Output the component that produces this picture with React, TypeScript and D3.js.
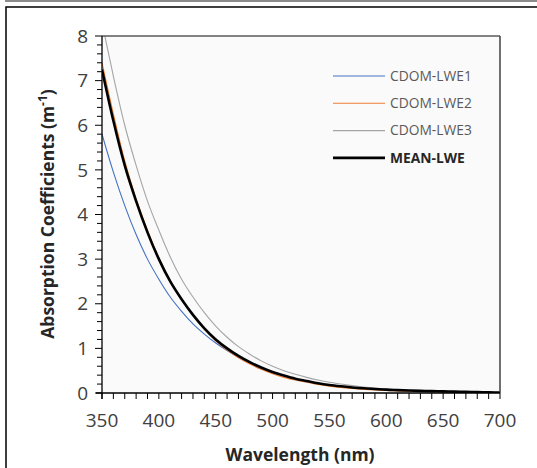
import React from "react";
import * as d3 from "d3";

const wavelengths = [350,360,370,380,390,400,410,420,430,440,450,460,470,480,490,500,510,520,530,540,550,560,570,580,590,600,610,620,630,640,650,660,670,680,690,700];

const lwe1 = [5.8,4.95,4.2,3.55,3.0,2.55,2.15,1.83,1.55,1.32,1.12,0.95,0.8,0.67,0.56,0.46,0.38,0.31,0.26,0.21,0.17,0.14,0.115,0.095,0.08,0.068,0.058,0.05,0.043,0.037,0.032,0.027,0.022,0.018,0.014,0.01];
const lwe2 = [7.4,6.25,5.2,4.35,3.65,3.03,2.52,2.1,1.74,1.43,1.17,0.96,0.79,0.65,0.53,0.43,0.35,0.29,0.24,0.19,0.155,0.125,0.1,0.083,0.068,0.056,0.047,0.04,0.034,0.029,0.025,0.021,0.017,0.014,0.011,0.008];
const lwe3 = [8.3,7.1,6.0,5.1,4.3,3.65,3.05,2.55,2.15,1.8,1.5,1.25,1.04,0.87,0.72,0.6,0.5,0.42,0.35,0.29,0.24,0.2,0.165,0.135,0.11,0.09,0.075,0.063,0.053,0.045,0.038,0.032,0.026,0.021,0.016,0.012];
const meanLwe = [7.25,6.1,5.1,4.3,3.6,3.0,2.5,2.1,1.75,1.45,1.2,1.0,0.83,0.69,0.57,0.47,0.39,0.32,0.27,0.22,0.18,0.15,0.125,0.105,0.09,0.075,0.065,0.055,0.048,0.042,0.036,0.03,0.025,0.02,0.015,0.01];

const seriesNames = ["CDOM-LWE1","CDOM-LWE2","CDOM-LWE3","MEAN-LWE"];
const xTicks = [350,400,450,500,550,600,650,700];
const yTicks = [0,1,2,3,4,5,6,7,8];

const W = 537, H = 468;
const L = 102, R = 500, T = 36, B = 393;

export default function App() {
  const x = d3.scaleLinear().domain([350, 700]).range([L, R]);
  const y = d3.scaleLinear().domain([0, 8]).range([B, T]);
  const line = d3.line<[number, number]>()
    .x(d => x(d[0]))
    .y(d => y(d[1]))
    .curve(d3.curveMonotoneX);
  const mk = (vals: number[]) => line(wavelengths.map((w, i) => [w, vals[i]] as [number, number])) || "";

  const series = [
    { name: seriesNames[0], vals: lwe1, color: "#4472c4", width: 1.1 },
    { name: seriesNames[1], vals: lwe2, color: "#ed7d31", width: 1.1 },
    { name: seriesNames[2], vals: lwe3, color: "#a5a5a5", width: 1.1 },
    { name: seriesNames[3], vals: meanLwe, color: "#000000", width: 2.6 },
  ];

  const xMinor = d3.range(350, 701, 10);
  const yMinor = d3.range(0, 8.001, 0.2);

  const font = "'Open Sans', sans-serif";

  return (
    <svg width={W} height={H} style={{ position: "absolute", left: 0, top: 0, background: "#fff" }}>
      <line x1={5} x2={W} y1={1} y2={1} stroke="#8c8c8c" strokeWidth={2} />
      <rect x={6} y={7} width={W + 10} height={H + 10} fill="none" stroke="#000" strokeWidth={1.5} />
      <defs>
        <clipPath id="plotclip">
          <rect x={L} y={T} width={R - L} height={B - T} />
        </clipPath>
      </defs>
      <rect x={L} y={T} width={R - L} height={B - T} fill="#fafafa" />
      <g clipPath="url(#plotclip)">
        {series.map(s => (
          <path key={s.name} d={mk(s.vals)} fill="none" stroke={s.color} strokeWidth={s.width} />
        ))}
      </g>
      <line x1={L} x2={R} y1={T} y2={T} stroke="#595959" strokeWidth={1.5} />
      <line x1={R} x2={R} y1={T} y2={B} stroke="#404040" strokeWidth={1.5} />
      <line x1={L} x2={L} y1={T} y2={B + 6} stroke="#000" strokeWidth={1.3} />
      {yMinor.map((v, i) => (
        <line key={"ym" + i} x1={L - (Math.abs(v - Math.round(v)) < 1e-6 ? 7 : 5)} x2={L} y1={y(v)} y2={y(v)} stroke="#000" strokeWidth={1} />
      ))}
      {yTicks.map(v => (
        <text key={"yt" + v} x={88} y={y(v)} dy="0.35em" textAnchor="end" fontFamily={font} fontSize={19} fill="#404040">{v}</text>
      ))}
      <line x1={L - 6} x2={R} y1={B} y2={B} stroke="#000" strokeWidth={1.3} />
      {xMinor.map(v => (
        <line key={"xm" + v} x1={x(v)} x2={x(v)} y1={B} y2={B + 6} stroke="#000" strokeWidth={1} />
      ))}
      {xTicks.map(v => (
        <text key={"xt" + v} x={x(v)} y={427} textAnchor="middle" fontFamily={font} fontSize={19} fill="#404040">{v}</text>
      ))}
      <text x={300} y={461} textAnchor="middle" fontFamily={font} fontSize={17.5} fontWeight="bold" fill="#262626">Wavelength (nm)</text>
      <text transform={`translate(54,${214}) rotate(-90)`} textAnchor="middle" fontFamily={font} fontSize={17.5} fontWeight="bold" fill="#262626">
        Absorption Coefficients (m<tspan dy={-7} fontSize={12}>-1</tspan><tspan dy={7}>)</tspan>
      </text>
      {series.map((s, i) => (
        <g key={"lg" + s.name} transform={`translate(0,${76 + i * 27.3})`}>
          <line x1={333} x2={385} y1={0} y2={0} stroke={s.color} strokeWidth={s.width} />
          <text x={390} y={0} dy="0.35em" fontFamily={font} fontSize={13.8} fontWeight={i === 3 ? "bold" : "normal"} fill={i === 3 ? "#262626" : "#595959"}>{s.name}</text>
        </g>
      ))}
    </svg>
  );
}
